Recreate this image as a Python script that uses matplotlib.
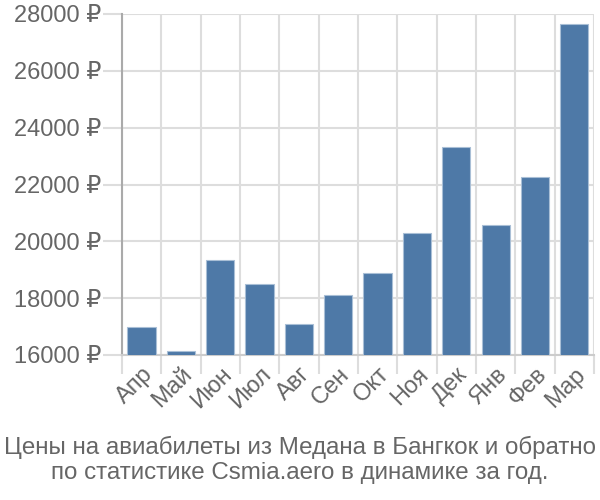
import numpy as np
import matplotlib.pyplot as plt

plt.rcParams['font.family'] = ['Liberation Sans', 'DejaVu Sans']

months = ['Апр', 'Май', 'Июн', 'Июл', 'Авг', 'Сен', 'Окт', 'Ноя', 'Дек', 'Янв', 'Фев', 'Мар']
prices = [16990, 16140, 19350, 18490, 17080, 18110, 18880, 20290, 23310, 20570, 22270, 27640]
yticks = [16000, 18000, 20000, 22000, 24000, 26000, 28000]
caption = 'Цены на авиабилеты из Медана в Бангкок и обратно\nпо статистике Csmia.aero в динамике за год.'

text_color = '#666666'
grid_color = '#dddddd'

fig = plt.figure(figsize=(6, 5), dpi=100)
ax = fig.add_axes([0.2033, 0.29, 0.7867, 0.682])

x = np.arange(len(months))
ax.bar(x, prices, width=0.72, color='#4e79a7', edgecolor='#a9bfd6', linewidth=0.8, zorder=3)

ax.set_xlim(-0.5, len(months) - 0.5)
ax.set_ylim(16000, 28000)

ax.set_yticks(yticks)
ax.set_yticklabels([f'{v} ₽' for v in yticks])
ax.set_xticks(x)
ax.set_xticklabels(months, rotation=45, ha='right', rotation_mode='anchor')
ax.set_xticks(np.arange(len(months) + 1) - 0.5, minor=True)

ax.tick_params(axis='x', which='major', length=0, pad=6, labelsize=17, labelcolor=text_color)
ax.tick_params(axis='x', which='minor', length=14, width=1.5, color=grid_color)
ax.tick_params(axis='y', length=14, width=1.5, color=grid_color, labelsize=17,
               labelcolor=text_color, pad=1)

ax.grid(True, axis='y', which='major', color=grid_color, linewidth=1.5, zorder=0)
ax.grid(True, axis='x', which='minor', color=grid_color, linewidth=1.5, zorder=0)

for side in ['top', 'right']:
    ax.spines[side].set_visible(False)
ax.spines['left'].set_color('#aaaaaa')
ax.spines['left'].set_linewidth(1.5)
ax.spines['bottom'].set_color('#cccccc')
ax.spines['bottom'].set_linewidth(1.5)

fig.text(0.5, 0.08, caption, ha='center', va='center', fontsize=17.4,
         color=text_color, linespacing=1.18)

fig.savefig('out.png', dpi=100)
